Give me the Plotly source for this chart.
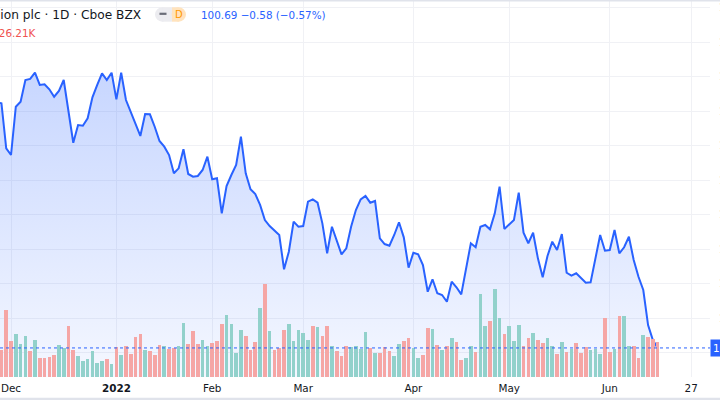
import plotly.graph_objects as go

# ---------------- data (bar index: 0 = 1 Dec 2021, trading days only) ----------------
bar_index = list(range(-3, 136))

close = [
    136.30, 136.15, 129.62,
    128.65, 135.65, 136.38, 139.52, 139.67, 140.58, 138.80, 138.90, 138.17, 137.10,
    137.93, 139.52, 135.17, 130.43, 133.00, 132.90, 133.97, 137.01, 138.80, 140.49,
    139.52, 140.58, 136.72, 140.58, 136.62, 134.93, 133.25, 131.41, 134.59, 134.55,
    132.75, 130.68, 129.86, 128.65, 126.00, 126.72, 129.48, 125.90, 125.51, 125.61,
    126.48, 128.41, 125.13, 125.28, 120.20, 124.16, 125.75, 127.20, 131.30, 126.00,
    123.68, 123.00, 121.41, 119.23, 118.36, 117.78, 117.06, 112.09, 114.64, 118.99,
    118.26, 118.36, 121.88, 122.23, 121.74, 118.75, 114.41, 118.26, 116.23, 114.26,
    115.13, 118.26, 120.68, 122.23, 122.71, 121.74, 121.99, 116.58, 115.75, 115.51,
    117.06, 118.90, 116.72, 112.32, 114.49, 114.26, 112.71, 108.84, 110.64, 108.61,
    108.36, 107.39, 110.29, 109.48, 108.46, 111.99, 115.86, 115.28, 118.26, 118.51,
    117.88, 120.20, 124.06, 117.93, 118.51, 119.23, 123.19, 117.39, 115.86, 117.39,
    113.68, 110.93, 114.01, 116.09, 114.88, 117.20, 111.59, 111.16, 111.51, 110.78,
    110.14, 110.20, 113.68, 117.06, 114.78, 114.88, 117.78, 114.41, 115.28, 116.81,
    113.43, 111.01, 109.09, 104.01, 101.84, 100.69,
]

volume_k = [
    20.0, 20.2, 50.8,
    27.2, 32.7, 25.2, 30.7, 19.4, 27.7, 14.6, 14.6, 15.1, 16.4,
    23.9, 21.9, 38.3, 20.6, 15.6, 12.1, 13.4, 19.4, 10.8, 12.1,
    13.4, 10.0, 22.7, 16.8, 23.2, 17.6, 30.2, 32.7, 20.2, 19.4,
    16.4, 23.9, 23.2, 21.1, 21.9, 23.2, 40.8, 24.7, 34.7, 25.2,
    27.7, 23.4, 25.9, 27.0, 39.8, 46.6, 39.8, 18.1, 35.3, 30.7,
    20.6, 26.4, 51.9, 70.5, 34.5, 20.2, 21.9, 35.7, 39.8, 27.2,
    35.7, 33.2, 27.7, 38.7, 37.5, 30.7, 38.7, 23.4, 19.4, 15.6,
    23.2, 22.7, 23.2, 21.1, 33.8, 21.9, 18.1, 18.1, 22.7, 19.4,
    15.6, 25.2, 27.0, 29.7, 21.7, 14.6, 16.8, 36.8, 36.3, 23.9,
    20.6, 23.4, 29.7, 26.7, 12.8, 14.6, 23.2, 18.7, 62.9, 38.3,
    42.1, 66.5, 44.3, 32.3, 38.3, 27.0, 39.3, 23.2, 29.2, 33.2,
    28.2, 25.7, 29.2, 23.6, 17.1, 26.2, 18.7, 20.9, 25.5, 18.1,
    22.4, 20.2, 21.1, 17.1, 44.3, 18.9, 21.1, 46.1, 46.1, 23.4,
    23.4, 14.1, 31.5, 30.2, 28.9, 26.21,
]

# candle direction per bar (g = up / teal volume, r = down / red volume)
direction = (
    "rrr"
    "rgggrgrrrr" "ggrrgggggg" "rgrgrrrrgr" "rrgrrggrrr" "ggrrrggggr"
    "rrgrgrrrgg" "gggrgrrgrr" "rggggrgrrr" "ggrrggrrgr" "grgrrggrgg"
    "rggrgggrrg" "rrggrgrgrr" "rgggrrgrgg" "rrgrrr"
)

tick_index = [0, 22, 42, 61, 84, 104, 125, 142]
tick_text = ["Dec", "<b>2022</b>", "Feb", "Mar", "Apr", "May", "Jun", "27"]
price_ticks = [100, 105, 110, 115, 120, 125, 130, 135, 140, 145, 150]

title_text = "Allegion plc · 1D · Cboe BZX"
last_text = "100.69 −0.58 (−0.57%)"
vol_text = "Vol 26.21K"
last_price = close[-1]

# ---------------- styling ----------------
FONT = "DejaVu Sans"
BLUE = "#2962FF"
UP = "#92d1cb"
DOWN = "#f5a6a5"
GRID = "#f0f1f5"
TEXT = "#131722"

W, H = 720, 400
ML, MR, MT, MB = 0, 10, 1, 23
PW, PH = W - ML - MR, H - MT - MB
PB = MT + PH


def px(x):
    return (x - ML) / PW


def py(y):
    return (PB - y) / PH


fig = go.Figure()

# area fill
fig.add_trace(go.Scatter(
    x=bar_index, y=close, mode="lines", line=dict(width=0, color=BLUE),
    fill="tozeroy",
    fillgradient=dict(type="vertical",
                      colorscale=[[0, "rgba(41,98,255,0.05)"], [1, "rgba(41,98,255,0.26)"]],
                      start=96.5, stop=140.6),
    hoverinfo="skip", showlegend=False,
))

# volume
fig.add_trace(go.Bar(
    x=bar_index, y=volume_k, yaxis="y2", width=0.76,
    marker=dict(color=[UP if d == "g" else DOWN for d in direction], line=dict(width=0)),
    showlegend=False,
))

# price line
fig.add_trace(go.Scatter(
    x=bar_index, y=close, mode="lines", line=dict(width=2, color=BLUE),
    showlegend=False,
))

fig.update_layout(
    width=W, height=H,
    margin=dict(l=ML, r=MR, t=MT, b=MB, pad=0, autoexpand=False),
    paper_bgcolor="white", plot_bgcolor="white",
    font=dict(family=FONT, color=TEXT, size=10.4),
    bargap=0,
    xaxis=dict(range=[-2.3, 145.93], tickvals=tick_index, ticktext=tick_text,
               showgrid=True, gridcolor=GRID, gridwidth=1, zeroline=False,
               showline=False, ticks="", ticklabelstandoff=4, automargin=False,
               tickfont=dict(family=FONT, size=10.4, color=TEXT)),
    yaxis=dict(range=[96.48, 150.97], side="right", tickvals=price_ticks,
               ticktext=[f"{v:.2f}" for v in price_ticks],
               showgrid=True, gridcolor=GRID, gridwidth=1, zeroline=False,
               showline=False, ticks="", ticklabelstandoff=8, automargin=False,
               tickfont=dict(family=FONT, size=10.4, color=TEXT)),
    yaxis2=dict(range=[0, 284.0], overlaying="y", visible=False, showgrid=False,
                automargin=False),
    hovermode=False,
)

shapes = [
    # last price dotted line
    dict(type="line", xref="paper", yref="y", x0=0, x1=1, y0=last_price, y1=last_price,
         line=dict(color=BLUE, width=1, dash="dot"), layer="above"),
    # top border
    dict(type="rect", xref="paper", yref="paper", x0=px(0), x1=px(720), y0=py(1.5), y1=py(-1),
         line=dict(width=0), fillcolor="#e0e3eb", layer="above"),
    # bottom band
    dict(type="rect", xref="paper", yref="paper", x0=px(0), x1=px(720), y0=py(400.5), y1=py(397.8),
         line=dict(width=0), fillcolor="#e0e3eb", layer="above"),
    # pill: grey part
    dict(type="circle", xref="paper", yref="paper", x0=px(155), x1=px(169.4), y0=py(21.7), y1=py(7.3),
         line=dict(width=0), fillcolor="#ececf0", layer="above"),
    dict(type="rect", xref="paper", yref="paper", x0=px(162.2), x1=px(172), y0=py(21.7), y1=py(7.3),
         line=dict(width=0), fillcolor="#ececf0", layer="above"),
    # pill: orange part
    dict(type="rect", xref="paper", yref="paper", x0=px(172), x1=px(178.8), y0=py(21.7), y1=py(7.3),
         line=dict(width=0), fillcolor="#ffe3bd", layer="above"),
    dict(type="circle", xref="paper", yref="paper", x0=px(171.6), x1=px(186), y0=py(21.7), y1=py(7.3),
         line=dict(width=0), fillcolor="#ffe3bd", layer="above"),
    # dash icon
    dict(type="line", xref="paper", yref="paper", x0=px(159.5), x1=px(166.5), y0=py(13.8), y1=py(13.8),
         line=dict(color="#6a6d78", width=2.2), layer="above"),
]
fig.update_layout(shapes=shapes)

annotations = [
    dict(text=title_text, xref="paper", yref="paper", x=px(143), y=py(14.8),
         xanchor="right", yanchor="middle", showarrow=False,
         font=dict(family=FONT, size=12.2, color=TEXT)),
    dict(text="D", xref="paper", yref="paper", x=px(178.5), y=py(14.5),
         xanchor="center", yanchor="middle", showarrow=False,
         font=dict(family=FONT, size=10, color="#ff9800")),
    dict(text=last_text, xref="paper", yref="paper", x=px(199), y=py(15),
         xanchor="left", yanchor="middle", showarrow=False,
         font=dict(family=FONT, size=10.4, color=BLUE)),
    dict(text=vol_text, xref="paper", yref="paper", x=px(39), y=py(33),
         xanchor="right", yanchor="middle", showarrow=False,
         font=dict(family=FONT, size=10.4, color="#ef5350")),
    dict(text=f"{last_price:.2f}", xref="paper", yref="y", x=1, y=last_price,
         xanchor="left", yanchor="middle", showarrow=False, bgcolor=BLUE, borderpad=2,
         font=dict(family=FONT, size=10.4, color="white")),
]
fig.update_layout(annotations=annotations)

fig.write_html("out.html")
